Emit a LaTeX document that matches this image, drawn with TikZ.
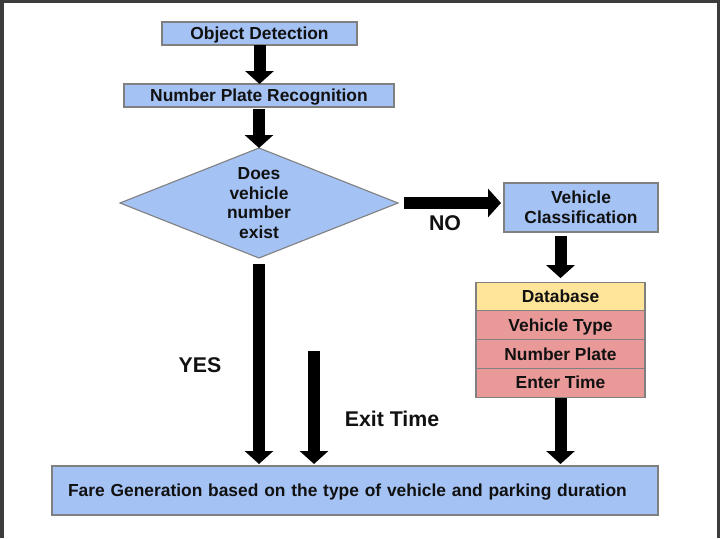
\documentclass[tikz,border=0pt]{standalone}
\usepackage{fontspec}
\setmainfont{Liberation Sans}
\usetikzlibrary{arrows.meta}
\usetikzlibrary{shapes.geometric}
\usetikzlibrary{positioning}
\definecolor{boxblue}{HTML}{A4C2F4}
\definecolor{dbyellow}{HTML}{FFE599}
\definecolor{dbred}{HTML}{EA9999}
\definecolor{edgegray}{HTML}{808080}
\definecolor{framegray}{HTML}{3C3C3C}
\definecolor{ink}{HTML}{111111}
\tikzset{box/.style = {draw=edgegray, line width=1.1pt, fill=boxblue, text=ink,
                       inner sep=0pt, outer sep=0pt, align=center,
                       font=\fontsize{17.4}{20}\selectfont\bfseries}}
\tikzset{oneline/.style = {text height=12.5pt, text depth=0.5pt}}
\tikzset{row/.style = {box, oneline, fill=dbred, minimum width=169pt, minimum height=28.75pt}}
\tikzset{decision/.style = {diamond, draw=edgegray, line width=1.1pt, fill=boxblue,
                            inner sep=0pt, outer sep=0pt,
                            minimum width=278pt, minimum height=110pt}}
\tikzset{qtext/.style = {text=ink, align=center, inner sep=0pt,
                         font=\fontsize{17.4}{19.4}\selectfont\bfseries}}
\tikzset{blk/.style = {line width=12pt, -{Triangle[length=13pt, width=28pt]}}}
\tikzset{lbl/.style = {text=ink, inner sep=0pt, font=\fontsize{21.3}{24}\selectfont\bfseries}}

\begin{document}
\begin{tikzpicture}[x=1pt, y=-1pt]
      \useasboundingbox (0, 0) rectangle (720, 538);
      \fill [white] (0, 0) rectangle (720, 538);
      \fill [framegray] (0, 0) rectangle (720, 2.5);
      \fill [framegray] (0, 0) rectangle (3.5, 538);
      \fill [framegray] (716.5, 0) rectangle (720, 538);

      \node (od) at (259.5, 33.5) [box, oneline, minimum width=195pt, minimum height=23pt] {Object Detection};
      \node (npr) at (259, 95.5) [box, oneline, minimum width=270pt, minimum height=23pt] {Number Plate Recognition};
      \node (dia) at (259, 203) [decision] {};
      \node (q) at (dia.center) [qtext] {Does\\vehicle\\number\\exist};

      \node (vc) at (581, 207.5) [box, minimum width=154pt, minimum height=49pt] {Vehicle\\Classification};
      \node (dbh) at (560.5, 296.5) [row, fill=dbyellow] {Database};
      \node (vt) [row, below=0pt of dbh] {Vehicle Type};
      \node (np) [row, below=0pt of vt] {Number Plate};
      \node (et) [row, below=0pt of np] {Enter Time};

      \node (fare) at (355, 490.5) [box, oneline, minimum height=49pt, text width=574pt,
                                    inner xsep=16pt, align=left]
            {Fare Generation based on the type of vehicle and parking duration};

      \coordinate (exit) at (314, 351);

      \draw [blk] (od.south) -- (od.south |- npr.north);
      \draw [blk, shorten <=2pt] (npr.south) -- (npr.south |- dia.north);
      \draw [blk, shorten <=6pt, shorten >=3pt] (dia.east) -- (dia.east -| vc.west);
      \draw [blk, shorten <=4pt, shorten >=4pt] (vc.south -| dbh.north) -- (dbh.north);
      \draw [blk, shorten <=1pt, shorten >=2pt] (et.south) -- (et.south |- fare.north);
      \draw [blk, shorten <=6pt, shorten >=2pt] (dia.south) -- (dia.south |- fare.north);
      \draw [blk, shorten >=2pt] (exit) -- (exit |- fare.north);

      \node (no) at (445, 223) [lbl] {NO};
      \node (yes) at (200, 365) [lbl] {YES};
      \node (exittime) at (392, 419) [lbl] {Exit Time};
    \end{tikzpicture}
\end{document}
